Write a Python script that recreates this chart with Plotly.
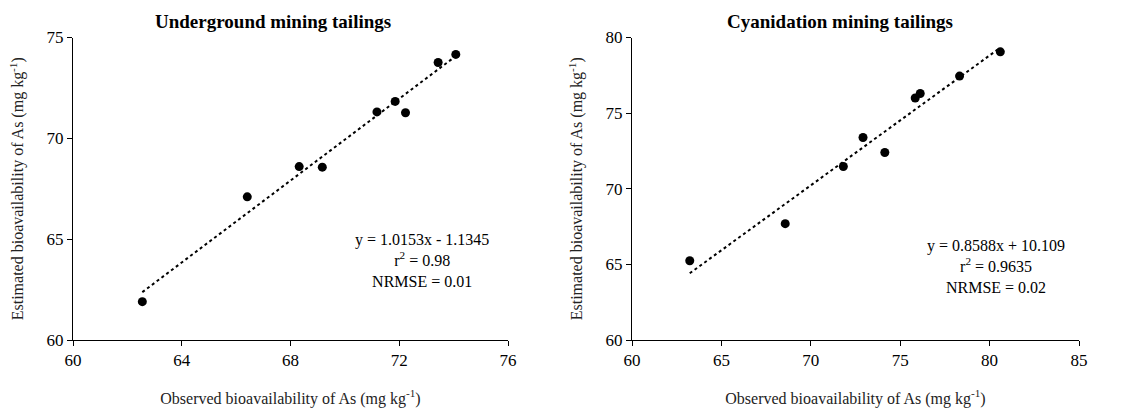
import plotly.graph_objects as go

# Underground mining tailings
ug_obs = [62.55, 66.41, 68.32, 69.17, 71.18, 71.85, 72.23, 73.43, 74.08]
ug_est = [61.9, 67.1, 68.6, 68.57, 71.31, 71.83, 71.27, 73.76, 74.16]
ug_slope, ug_icpt = 1.0153, -1.1345
ug_text = "y = 1.0153x - 1.1345<br>r<sup>2</sup> = 0.98<br>NRMSE = 0.01"

# Cyanidation mining tailings
cy_obs = [63.23, 68.57, 71.82, 72.92, 74.14, 75.84, 76.12, 78.32, 80.6]
cy_est = [65.24, 67.69, 71.47, 73.39, 72.4, 76.0, 76.3, 77.45, 79.05]
cy_slope, cy_icpt = 0.8588, 10.109
cy_text = "y = 0.8588x + 10.109<br>r<sup>2</sup> = 0.9635<br>NRMSE = 0.02"

titles = ["Underground mining tailings", "Cyanidation mining tailings"]
xlab = "Observed bioavailability of As (mg kg<sup>-1</sup>)"
ylab = "Estimated bioavailability of As (mg kg<sup>-1</sup>)"

FONT = "Liberation Serif"
W, H = 1140, 414

fig = go.Figure()

def add_panel(obs, est, slope, icpt, xa, ya):
    fig.add_trace(go.Scatter(x=obs, y=est, mode="markers",
                             marker=dict(color="black", size=9),
                             xaxis=xa, yaxis=ya, showlegend=False))
    x0, x1 = min(obs), max(obs)
    fig.add_trace(go.Scatter(x=[x0, x1], y=[slope * x0 + icpt, slope * x1 + icpt],
                             mode="lines", line=dict(color="black", width=2, dash="dot"),
                             xaxis=xa, yaxis=ya, showlegend=False))

add_panel(ug_obs, ug_est, ug_slope, ug_icpt, "x", "y")
add_panel(cy_obs, cy_est, cy_slope, cy_icpt, "x2", "y2")

ydom = [1 - 340 / H, 1 - 37.5 / H]
axis_common = dict(showline=True, linecolor="black", linewidth=1, ticks="outside",
                   ticklen=5, tickcolor="black", showgrid=False, zeroline=False,
                   automargin=False,
                   tickfont=dict(family=FONT, size=17, color="black"),
                   title_font=dict(family=FONT, size=16, color="#222"))

fig.update_layout(
    width=W, height=H,
    margin=dict(l=0, r=0, t=0, b=0),
    paper_bgcolor="white", plot_bgcolor="white",
    font=dict(family=FONT, color="black"),
    xaxis=dict(domain=[73 / W, 508 / W], range=[60, 76], tickvals=[60, 64, 68, 72, 76],
               anchor="y", title=dict(text=xlab, standoff=23), **axis_common),
    yaxis=dict(domain=ydom, range=[60, 75], tickvals=[60, 65, 70, 75],
               anchor="x", title=dict(text=ylab, standoff=18), **axis_common),
    xaxis2=dict(domain=[632 / W, 1079 / W], range=[60, 85], tickvals=[60, 65, 70, 75, 80, 85],
                anchor="y2", title=dict(text=xlab, standoff=23), **axis_common),
    yaxis2=dict(domain=ydom, range=[60, 80], tickvals=[60, 65, 70, 75, 80],
                anchor="x2", title=dict(text=ylab, standoff=18), **axis_common),
)

ann = dict(xref="paper", yref="paper", showarrow=False, xanchor="center", yanchor="middle")
fig.add_annotation(text="<b>" + titles[0] + "</b>", x=273 / W, y=1 - 21 / H,
                   font=dict(family=FONT, size=19, color="black"), **ann)
fig.add_annotation(text="<b>" + titles[1] + "</b>", x=840 / W, y=1 - 21 / H,
                   font=dict(family=FONT, size=19, color="black"), **ann)
fig.add_annotation(text=ug_text, x=422 / W, y=1 - 260 / H, align="center",
                   font=dict(family=FONT, size=16, color="black"), **ann)
fig.add_annotation(text=cy_text, x=996 / W, y=1 - 266 / H, align="center",
                   font=dict(family=FONT, size=16, color="black"), **ann)

fig.write_html("out.html", config={"displayModeBar": False},
               post_script="document.body.style.margin='0';")
